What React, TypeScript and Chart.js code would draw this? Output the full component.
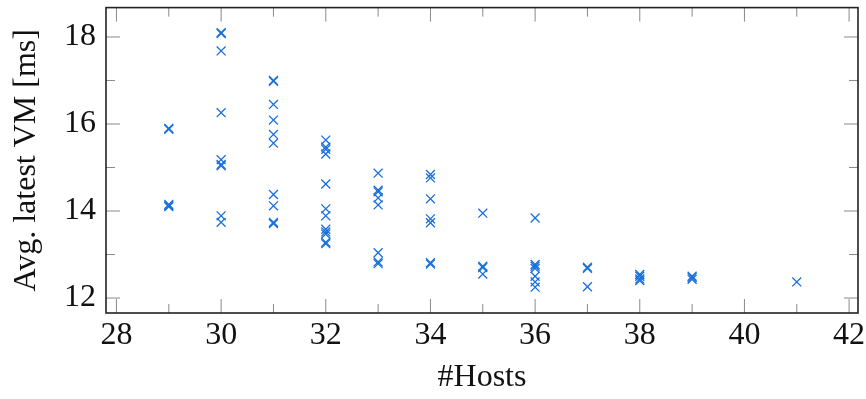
import React, { useEffect, useRef } from "react";
import { Chart, registerables } from "chart.js";

Chart.register(...registerables);

// Number of hosts for each measured run
const hosts = [
  29, 29, 29, 29, 29,
  30, 30, 30, 30, 30, 30, 30, 30, 30,
  31, 31, 31, 31, 31, 31, 31, 31, 31, 31,
  32, 32, 32, 32, 32, 32, 32, 32, 32, 32, 32, 32,
  33, 33, 33, 33, 33, 33, 33, 33,
  34, 34, 34, 34, 34, 34, 34,
  35, 35, 35, 35,
  36, 36, 36, 36, 36, 36, 36,
  37, 37, 37,
  38, 38, 38, 38,
  39, 39, 39,
  41,
];

// Average latency of the latest VM [ms] for each run (same order as hosts)
const latency = [
  15.9, 15.88, 14.15, 14.1, 14.12,
  18.1, 18.08, 17.68, 16.26, 15.18, 15.07, 15.04, 13.89, 13.74,
  17.0, 16.98, 16.45, 16.09, 15.76, 15.56, 14.38, 14.12, 13.74, 13.71,
  15.63, 15.47, 15.42, 15.31, 14.62, 14.05, 13.89, 13.58, 13.52, 13.47, 13.28, 13.25,
  14.87, 14.48, 14.44, 14.3, 14.14, 13.04, 12.83, 12.79,
  14.84, 14.76, 14.28, 13.82, 13.73, 12.81, 12.78,
  13.95, 12.73, 12.7, 12.55,
  13.84, 12.77, 12.73, 12.68, 12.5, 12.37, 12.25,
  12.71, 12.68, 12.26,
  12.54, 12.5, 12.44, 12.4,
  12.5, 12.47, 12.43,
  12.37,
];

const xMajorTicks = [28, 30, 32, 34, 36, 38, 40, 42];
const xMinorTicks = [29, 31, 33, 35, 37, 39, 41];
const yMajorTicks = [12, 14, 16, 18];
const yMinorTicks = [13, 15, 17];

const xTitle = "#Hosts";
const yTitle = "Avg. latest VM [ms]";

const FONT = "'Liberation Serif', 'Times New Roman', serif";
const MARK = "#1a70dc";

const framePlugin = {
  id: "frame",
  beforeDatasetsDraw(chart: any) {
    const { ctx, chartArea, scales } = chart;
    const { left, right, top, bottom } = chartArea;
    const x = scales.x;
    const y = scales.y;
    ctx.save();
    ctx.strokeStyle = "#8a8a8a";
    ctx.lineWidth = 1;
    const vt = (v: number, len: number) => {
      const p = x.getPixelForValue(v);
      ctx.beginPath();
      ctx.moveTo(p, bottom);
      ctx.lineTo(p, bottom - len);
      ctx.moveTo(p, top);
      ctx.lineTo(p, top + len);
      ctx.stroke();
    };
    const ht = (v: number, len: number) => {
      const p = y.getPixelForValue(v);
      ctx.beginPath();
      ctx.moveTo(left, p);
      ctx.lineTo(left + len, p);
      ctx.moveTo(right, p);
      ctx.lineTo(right - len, p);
      ctx.stroke();
    };
    xMajorTicks.forEach((v) => vt(v, 14));
    xMinorTicks.forEach((v) => vt(v, 9));
    yMajorTicks.forEach((v) => ht(v, 14));
    yMinorTicks.forEach((v) => ht(v, 9));
    ctx.restore();
  },
  afterDatasetsDraw(chart: any) {
    const { ctx, chartArea } = chart;
    const { left, right, top, bottom } = chartArea;
    ctx.save();
    ctx.strokeStyle = "#222";
    ctx.lineWidth = 1.6;
    ctx.strokeRect(left, top, right - left, bottom - top);
    ctx.restore();
  },
};

export default function App() {
  const ref = useRef<HTMLCanvasElement | null>(null);

  useEffect(() => {
    if (!ref.current) return;
    const points = hosts.map((h, i) => ({ x: h, y: latency[i] }));
    const chart = new Chart(ref.current, {
      type: "scatter",
      data: {
        datasets: [
          {
            data: points,
            pointStyle: "crossRot",
            pointRadius: 6.3,
            pointHoverRadius: 6.3,
            borderColor: MARK,
            backgroundColor: MARK,
            pointBorderWidth: 1.3,
            borderWidth: 1.3,
          },
        ],
      },
      options: {
        animation: false,
        responsive: true,
        maintainAspectRatio: false,
        layout: { padding: { top: 7, right: 8, left: 0, bottom: 0 } },
        plugins: {
          legend: { display: false },
          tooltip: { enabled: false },
        },
        scales: {
          x: {
            type: "linear",
            min: 27.8,
            max: 42.17,
            grid: { display: false, drawTicks: false },
            border: { display: false },
            afterBuildTicks: (s: any) => {
              s.ticks = xMajorTicks.map((v) => ({ value: v }));
            },
            afterFit: (s: any) => {
              s.height = 86;
              s.paddingLeft = 0;
              s.paddingRight = 0;
            },
            ticks: {
              padding: 3,
              maxRotation: 0,
              autoSkip: false,
              color: "#111",
              font: { family: FONT, size: 32 },
              callback: (v: any) => String(v),
            },
            title: {
              display: true,
              text: xTitle,
              color: "#111",
              font: { family: FONT, size: 32 },
              padding: { top: 0, bottom: 2 },
            },
          },
          y: {
            type: "linear",
            min: 11.656,
            max: 18.675,
            grid: { display: false, drawTicks: false },
            border: { display: false },
            afterBuildTicks: (s: any) => {
              s.ticks = yMajorTicks.map((v) => ({ value: v }));
            },
            afterFit: (s: any) => {
              s.width = 106;
              s.paddingTop = 0;
              s.paddingBottom = 0;
            },
            ticks: {
              padding: 10,
              autoSkip: false,
              color: "#111",
              font: { family: FONT, size: 32 },
              callback: (v: any) => String(v),
            },
            title: {
              display: true,
              text: yTitle,
              color: "#111",
              font: { family: FONT, size: 32 },
              padding: { top: 7, bottom: 0 },
            },
          },
        },
      },
      plugins: [framePlugin],
    });
    return () => chart.destroy();
  }, []);

  return (
    <div style={{ position: "absolute", left: 0, top: 0, width: 866, height: 399, background: "#fff" }}>
      <canvas ref={ref} />
    </div>
  );
}
